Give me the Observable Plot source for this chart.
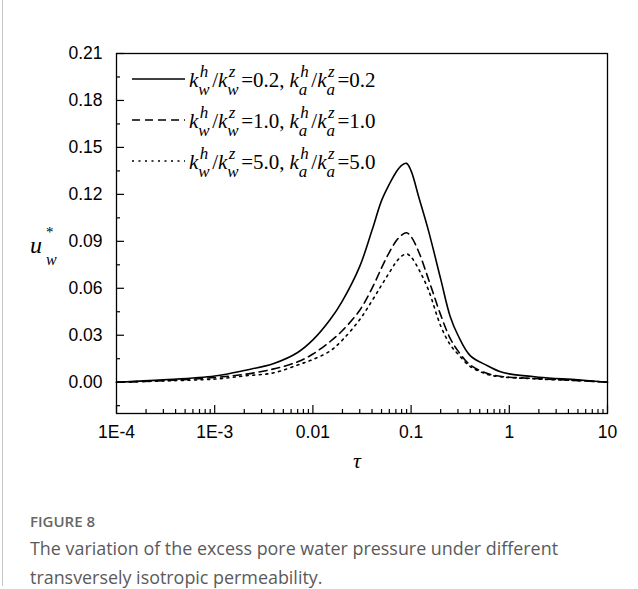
<!DOCTYPE html>
<html><head><meta charset="utf-8">
<script src="https://cdn.jsdelivr.net/npm/d3@7"></script>
<script src="https://cdn.jsdelivr.net/npm/@observablehq/plot@0.6"></script>
<style>
body{margin:0;background:#fff;}
#wrap{position:relative;width:638px;height:589px;overflow:hidden;}
#border{position:absolute;left:2px;top:0;width:1px;height:586px;background:#c8c8c8;}
#cap{padding-left:30px;font-family:"Open Sans",sans-serif;color:#5a5a5a;}
#fig{font-size:15px;line-height:22px;margin-top:10px;font-weight:600;color:#666;}
#txt{font-size:17.9px;line-height:29px;margin-top:2px;}
</style></head>
<body><div id="wrap"><div id="border"></div><div id="chart"></div>
<div id="cap"><div id="fig">FIGURE 8</div><div id="txt">The variation of the excess pore water pressure under different<br>transversely isotropic permeability.</div></div></div>
<script>
const tau = [1e-4, 3e-4, 1e-3, 2e-3, 4e-3, 7e-3, 0.01, 0.015, 0.02, 0.03, 0.04, 0.05, 0.06, 0.07, 0.08, 0.09, 0.1, 0.12, 0.15, 0.2, 0.25, 0.3, 0.4, 0.6, 0.8, 1, 2, 5, 10];
const uSolid  = [0, 0.0015, 0.004, 0.0075, 0.012, 0.019, 0.027, 0.040, 0.052, 0.074, 0.097, 0.116, 0.1265, 0.134, 0.1385, 0.1398, 0.135, 0.118, 0.097, 0.066, 0.042, 0.030, 0.017, 0.0105, 0.0068, 0.0053, 0.0032, 0.0015, 0];
const uDashed = [0, 0.001, 0.003, 0.005, 0.0085, 0.013, 0.018, 0.026, 0.033, 0.046, 0.060, 0.073, 0.083, 0.090, 0.094, 0.0955, 0.093, 0.083, 0.066, 0.043, 0.028, 0.020, 0.011, 0.0055, 0.0038, 0.0032, 0.0022, 0.001, 0];
const uDotted = [0, 0.0008, 0.002, 0.004, 0.006, 0.011, 0.0145, 0.020, 0.027, 0.040, 0.052, 0.062, 0.070, 0.0765, 0.0805, 0.082, 0.080, 0.072, 0.059, 0.036, 0.024, 0.018, 0.010, 0.005, 0.0035, 0.003, 0.002, 0.001, 0];
const ratios = ["0.2", "1.0", "5.0"];
const dashes = [null, "8,5", "2,4.5"];
const xTicks = [1e-4, 1e-3, 1e-2, 1e-1, 1, 10];
const xTickLabels = ["1E-4", "1E-3", "0.01", "0.1", "1", "10"];
const yTicks = [0, 0.03, 0.06, 0.09, 0.12, 0.15, 0.18, 0.21];
const yTickLabels = ["0.00", "0.03", "0.06", "0.09", "0.12", "0.15", "0.18", "0.21"];
const yMinor = [-0.015, 0.015, 0.045, 0.075, 0.105, 0.135, 0.165, 0.195];
const minorMultipliers = [2, 3, 4, 5, 6, 7, 8, 9];

const seriesU = [uSolid, uDashed, uDotted];
const rows = seriesU.map((arr, s) => tau.map((t, i) => ({tau: t, u: arr[i], s})));
const xMinor = xTicks.slice(0, -1).flatMap(d => minorMultipliers.map(m => d * m));
const xLab = new Map(xTicks.map((d, i) => [d, xTickLabels[i]]));
const yLab = new Map(yTicks.map((d, i) => [d, yTickLabels[i]]));

const W = 638, H = 500, ML = 116, MR = 31, MT = 53, MB = 87;
const plot = Plot.plot({
  width: W, height: H,
  marginLeft: ML, marginRight: MR, marginTop: MT, marginBottom: MB,
  x: {type: "log", domain: [1e-4, 10]},
  y: {domain: [-0.02, 0.21]},
  style: {fontFamily: "'Liberation Sans', Arial, sans-serif", fontSize: "17px", color: "#000", background: "#fff", overflow: "visible"},
  marks: [
    Plot.axisX({ticks: xTicks, tickSize: -8, fill: "none", label: null, strokeWidth: 1.2}),
    Plot.axisX({ticks: xMinor, tickSize: -4, fill: "none", label: null, strokeWidth: 1.2}),
    Plot.axisX({ticks: xTicks, tickSize: 0, tickPadding: 12, tickFormat: d => xLab.get(d), label: null, fontSize: 17.5}),
    Plot.axisY({ticks: yTicks, tickSize: -8, fill: "none", label: null, strokeWidth: 1.2}),
    Plot.axisY({ticks: yMinor, tickSize: -4, fill: "none", label: null, strokeWidth: 1.2}),
    Plot.axisY({ticks: yTicks, tickSize: 0, tickPadding: 14, tickFormat: d => yLab.get(d), label: null, fontSize: 17.5}),
    ...rows.map((r, s) => Plot.line(r, {x: "tau", y: "u", stroke: "#000", strokeWidth: 1.6, strokeDasharray: dashes[s], curve: "catmull-rom"})),
    Plot.text(["τ"], {frameAnchor: "bottom", dx: -5, dy: 54, fontFamily: "'Liberation Serif', 'Times New Roman', serif", fontStyle: "italic", fontSize: 22, fill: "#000"}),
    Plot.frame({stroke: "#000", strokeWidth: 1.3})
  ]
});
document.getElementById("chart").appendChild(plot);

const svg = d3.select(plot);
const SERIF = "'Liberation Serif', 'Times New Roman', serif";
function rich(g, x, y, parts) {
  let cx = x;
  for (const p of parts) {
    if (p.stack) {
      const s = g.append("text").attr("x", cx + 1.5).attr("y", y - 10).attr("font-size", 17).attr("font-style", "italic").text(p.sup);
      const b = g.append("text").attr("x", cx).attr("y", y + 8).attr("font-size", 17).attr("font-style", "italic").text(p.sub);
      cx += Math.max(s.node().getComputedTextLength() + 1.5, b.node().getComputedTextLength()) + 2.5;
    } else {
      const t = g.append("text").attr("x", cx).attr("y", y).attr("font-size", 21).attr("font-style", p.italic ? "italic" : "normal").text(p.t);
      cx += t.node().getComputedTextLength() + (p.gap || 0);
    }
  }
  return cx;
}
const leg = svg.append("g").attr("font-family", SERIF).attr("fill", "#000").attr("text-anchor", "start");
ratios.forEach((r, i) => {
  const ly = 79 + i * 41;
  const ln = leg.append("line").attr("x1", 132).attr("x2", 185).attr("y1", ly).attr("y2", ly)
    .attr("stroke", "#000").attr("stroke-width", 1.6);
  if (dashes[i]) ln.attr("stroke-dasharray", dashes[i]);
  rich(leg, 189, ly + 7.5, [
    {t: "k", italic: true}, {stack: true, sup: "h", sub: "w"},
    {t: "/"}, {t: "k", italic: true}, {stack: true, sup: "z", sub: "w"},
    {t: "=" + r + ",", gap: 5},
    {t: "k", italic: true}, {stack: true, sup: "h", sub: "a"},
    {t: "/"}, {t: "k", italic: true}, {stack: true, sup: "z", sub: "a"},
    {t: "=" + r}
  ]);
});
const yl = svg.append("g").attr("font-family", SERIF).attr("fill", "#000").attr("text-anchor", "start");
yl.append("text").attr("x", 30).attr("y", 253).attr("font-size", 24).attr("font-style", "italic").text("u");
yl.append("text").attr("x", 46).attr("y", 237).attr("font-size", 15).text("*");
yl.append("text").attr("x", 46).attr("y", 265).attr("font-size", 16).attr("font-style", "italic").text("w");
</script>
</body></html>
